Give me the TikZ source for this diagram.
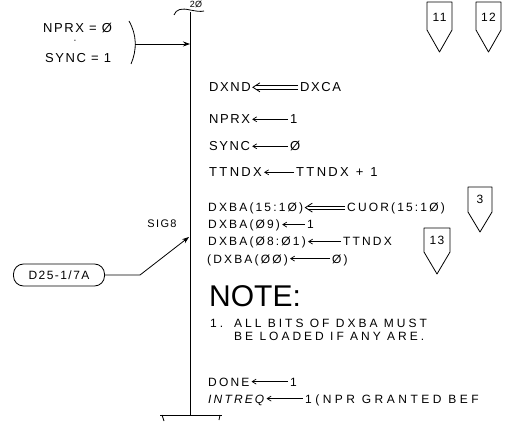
\documentclass[tikz,border=0pt]{standalone}
\usepackage{fontspec}
\setmainfont{Liberation Sans}
\newfontfamily\leroy[LetterSpace=12]{Liberation Sans}
\newfontfamily\leroyw[LetterSpace=18]{Liberation Sans}
\newfontfamily\leroyn[LetterSpace=25]{Liberation Sans}
\newfontfamily\leroyx[LetterSpace=29]{Liberation Sans}
\usetikzlibrary{arrows.meta}
\newcommand{\dblarrow}[2]{%
  \draw[line width=0.7pt] ([xshift=-2pt,yshift=1.6pt]#1.west) -- ([xshift=5pt,yshift=1.6pt]#2.east);
  \draw[line width=0.7pt] ([xshift=-2pt,yshift=-1.6pt]#1.west) -- ([xshift=5pt,yshift=-1.6pt]#2.east);
  \draw[line width=0.8pt, line join=miter] ([xshift=9pt,yshift=4.5pt]#2.east) -- ([xshift=2pt]#2.east) -- ([xshift=9pt,yshift=-4.5pt]#2.east);
}
\begin{document}
\begin{tikzpicture}[x=1pt,y=-1pt,
  t/.style={inner sep=0pt, anchor=base west, text height=9.4pt, text depth=0pt, font=\leroy\fontsize{13}{13}\selectfont},
  tw/.style={t, font=\leroyw\fontsize{13}{13}\selectfont},
  s/.style={inner sep=0pt, anchor=base west, text height=8.8pt, text depth=0pt, font=\leroyw\fontsize{12}{12}\selectfont},
  n/.style={inner sep=0pt, anchor=base west, font=\leroyn\fontsize{12}{12}\selectfont},
  arr/.style={-{Straight Barb[length=4pt,width=5pt]}, line width=0.7pt, shorten >=2pt, shorten <=2pt},
  flag/.style={line width=0.8pt, line join=round},
  inarr/.style={-{Stealth[length=7pt,width=5pt]}, line width=0.8pt},
  main/.style={line width=1pt},
]
\useasboundingbox (0,0) rectangle (506,422);

% main flow line
\coordinate (top) at (190,12);
\coordinate (bot) at (190,415);
\draw[main] (top) -- (bot);
\coordinate (bl) at (160,415);
\coordinate (br) at (222,415);
\draw[main] (bl) -- (br);
\draw[line width=0.8pt] (162,415) -- (164,421);
\draw[line width=0.8pt] (220,415) -- (219,420);

% top squiggle
\draw[line width=0.8pt] (174,15) .. controls (176,9) and (182,8) .. (190,10) .. controls (196,11) and (200,12) .. (204,11);
\node[inner sep=0pt, font=\fontsize{9}{9}\selectfont] (zero) at (196,4) {2Ø};

% entry condition
\node[t] (c1) at (43,33) {NPRX = Ø};
\node[inner sep=0pt, font=\fontsize{10}{10}\selectfont] (cdot) at (75,42) {·};
\node[t] (c2) at (45,63) {SYNC = 1};
\draw[line width=0.8pt] (129,21) .. controls (137,35) and (137,50) .. (131,64);
\coordinate (brk) at (135,44);
\coordinate (m1) at (190,44);
\draw[inarr] (brk) -- (m1);

% off-page connector flags
\draw[flag] (427,2) -- (452,2) -- (452,30) -- (439.5,52) -- (427,30) -- cycle;
\node[inner sep=0pt, font=\leroy\fontsize{12}{12}\selectfont] (f11) at (439.5,17) {11};
\draw[flag] (476,2) -- (501,2) -- (501,30) -- (488.5,52) -- (476,30) -- cycle;
\node[inner sep=0pt, font=\leroy\fontsize{12}{12}\selectfont] (f12) at (488.5,17) {12};
\draw[flag] (468,187) -- (492,187) -- (492,212) -- (480,232) -- (468,212) -- cycle;
\node[inner sep=0pt, font=\leroy\fontsize{12}{12}\selectfont] (f3) at (480,199) {3};
\draw[flag] (424,228) -- (450,228) -- (450,252) -- (437,274) -- (424,252) -- cycle;
\node[inner sep=0pt, font=\leroy\fontsize{12}{12}\selectfont] (f13) at (437,240) {13};

% assignments
\node[t] (a1) at (209,92) {DXND};
\node[t] (b1) at (300,92) {DXCA};
\dblarrow{b1}{a1}

\node[t] (a2) at (209,124) {NPRX};
\node[t] (b2) at (290,124) {1};
\draw[arr] (b2.west) -- (a2.east);

\node[t] (a3) at (209,151) {SYNC};
\node[t] (b3) at (290,151) {Ø};
\draw[arr] (b3.west) -- (a3.east);

\node[tw] (a4) at (209,177) {TTNDX};
\node[tw] (b4) at (296,177) {TTNDX\hspace{7pt}+\hspace{7pt}1};
\draw[arr] (b4.west) -- (a4.east);

\node[s] (a5) at (208,212) {DXBA(15:1Ø)};
\node[s] (b5) at (347,212) {CUOR(15:1Ø)};
\dblarrow{b5}{a5}

\node[s] (a6) at (208,229) {DXBA(Ø9)};
\node[s] (b6) at (307,229) {1};
\draw[arr] (b6.west) -- (a6.east);

\node[s] (a7) at (208,246) {DXBA(Ø8:Ø1)};
\node[s] (b7) at (343,246) {TTNDX};
\draw[arr] (b7.west) -- (a7.east);

\node[s] (a8) at (207,263) {(DXBA(ØØ)};
\node[s] (b8) at (332,263) {Ø)};
\draw[arr] (b8.west) -- (a8.east);

% note
\node[inner sep=0pt, anchor=base west, font=\fontsize{30}{30}\selectfont] (note) at (209,306) {NOTE:};
\node[n] (n1) at (210,327) {1.};
\node[n] (n2) at (234,327) {ALL BITS OF DXBA MUST};
\node[n] (n3) at (234,340) {BE LOADED IF ANY ARE.};

\node[s] (a9) at (208,386) {DONE};
\node[s] (b9) at (290,386) {1};
\draw[arr] (b9.west) -- (a9.east);

\node[s] (a10) at (208,403) {\itshape INTREQ};
\node[s, font=\leroyx\fontsize{12}{12}\selectfont] (b10) at (305,403) {1(NPR GRANTED BEF};
\draw[arr] (b10.west) -- (a10.east);

% SIG8 entry
\node[inner sep=0pt, font=\leroy\fontsize{11}{11}\selectfont] (sig) at (162,224) {SIG8};
\node[draw, line width=0.8pt, rounded corners=10pt, minimum width=91pt, minimum height=22pt, inner sep=0pt, font=\leroy\fontsize{12}{12}\selectfont] (pill) at (59,275) {D25-1/7A};
\coordinate (knee) at (140,275);
\coordinate (m2) at (189,237);
\draw[inarr] (pill.east) -- (knee) -- (m2);
\end{tikzpicture}
\end{document}
